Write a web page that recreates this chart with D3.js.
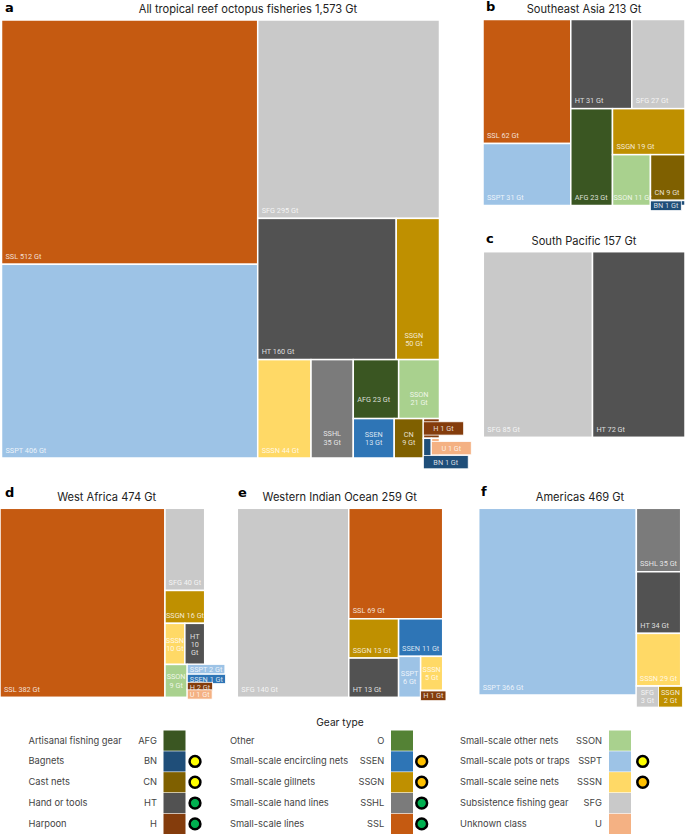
<!DOCTYPE html>
<html>
<head>
<meta charset="utf-8">
<script src="https://cdn.jsdelivr.net/npm/d3@7"></script>
<style>
  html, body { margin: 0; padding: 0; background: #fff; }
  svg { display: block; }
  text { font-family: Inter, "Noto Sans", sans-serif; }
</style>
</head>
<body>
<svg id="chart"></svg>
<script>
// panel titles
var titleA = "All tropical reef octopus fisheries 1,573 Gt";
var titleB = "Southeast Asia 213 Gt";
var titleC = "South Pacific 157 Gt";
var titleD = "West Africa 474 Gt";
var titleE = "Western Indian Ocean 259 Gt";
var titleF = "Americas 469 Gt";

// gear codes and printed catch per panel
var codesA = ["SSL", "SSPT", "SFG", "HT", "SSGN", "SSSN", "SSHL", "AFG", "SSON", "SSEN", "CN", "H", "BN", "U"];
var gtA = [512, 406, 295, 160, 50, 44, 35, 23, 21, 13, 9, 1, 1, 1];
// printed numbers are rounded, these are the cell sizes estimated from the picture
var sizeA = [512, 406, 295, 160, 50, 42.9, 34, 21.9, 19.7, 13.2, 9.4, 2.6, 1.3, 1.3];

var codesB = ["SSL", "SSPT", "HT", "SFG", "AFG", "SSGN", "SSON", "CN", "BN"];
var gtB = [62, 31, 31, 27, 23, 19, 11, 9, 1];

var codesC = ["SFG", "HT"];
var gtC = [85, 72];

var codesD = ["SSL", "SFG", "SSGN", "SSSN", "HT", "SSON", "SSPT", "SSEN", "H", "U"];
var gtD = [382, 40, 16, 10, 10, 9, 2, 1, 2, 1];
var sizeD = [382, 40, 16, 10, 10, 9, 2, 1.7, 1.6, 1.7];

var codesE = ["SFG", "SSL", "SSGN", "HT", "SSEN", "SSPT", "SSSN", "H"];
var gtE = [140, 69, 13, 13, 11, 6, 5, 1];

var codesF = ["SSPT", "SSHL", "HT", "SSSN", "SFG", "SSGN"];
var gtF = [366, 35, 34, 29, 3, 2];
var sizeF = [366, 35, 34, 29, 2.5, 2.5];

// how each treemap is nested: "h" splits left to right, "v" top to bottom
var treeA = ["h", ["v", "SSL", "SSPT"],
  ["v", "SFG", ["h", "HT", "SSGN"],
    ["h", "SSSN", "SSHL",
      ["v", ["h", "AFG", "SSON"], ["h", "SSEN", "CN", ["v", "H", ["h", "BN", "U"]]]]]]];
var treeB = ["h", ["v", "SSL", "SSPT"],
  ["v", ["h", "HT", "SFG"],
    ["h", "AFG", ["v", "SSGN", ["h", "SSON", ["v", "CN", "BN"]]]]]];
var treeC = ["h", "SFG", "HT"];
var treeD = ["h", "SSL",
  ["v", "SFG", "SSGN", ["h", "SSSN", "HT"], ["h", "SSON", ["v", "SSPT", "SSEN", "H", "U"]]]];
var treeE = ["h", "SFG",
  ["v", "SSL", ["h", ["v", "SSGN", "HT"], ["v", "SSEN", ["h", "SSPT", ["v", "SSSN", "H"]]]]]];
var treeF = ["h", "SSPT", ["v", "SSHL", "HT", "SSSN", ["h", "SFG", "SSGN"]]];

// labels set on two lines (name / amount), per panel
var wrapA = ["SSGN", "SSHL", "SSON", "SSEN", "CN"];
var wrapB = [];
var wrapC = [];
var wrapD = ["SSSN", "HT", "SSON"];
var wrapE = ["SSPT", "SSSN"];
var wrapF = ["SFG", "SSGN"];

// legend
var legendCodes = ["AFG", "BN", "CN", "HT", "H", "O", "SSEN", "SSGN", "SSHL", "SSL", "SSON", "SSPT", "SSSN", "SFG", "U"];
var legendNames = ["Artisanal fishing gear", "Bagnets", "Cast nets", "Hand or tools", "Harpoon",
  "Other", "Small-scale encircling nets", "Small-scale gillnets", "Small-scale hand lines", "Small-scale lines",
  "Small-scale other nets", "Small-scale pots or traps", "Small-scale seine nets", "Subsistence fishing gear", "Unknown class"];
var gearColours = ["#3a5622", "#1f4e79", "#7f6000", "#525252", "#843c0c",
  "#548235", "#2e75b6", "#bf9000", "#7b7b7b", "#c55a11",
  "#a9d18e", "#9dc3e6", "#ffd966", "#c9c9c9", "#f4b183"];
var dotCodes = ["BN", "CN", "HT", "H", "SSEN", "SSGN", "SSHL", "SSL", "SSPT", "SSSN"];
var dotColours = ["#ffff00", "#ffff00", "#00b050", "#00b050", "#ffc000", "#ffc000", "#00b050", "#00b050", "#ffff00", "#ffc000"];

var width = 685, height = 834;
var svg = d3.select("#chart").attr("width", width).attr("height", height);
var colour = d3.scaleOrdinal().domain(legendCodes).range(gearColours);
var dotColour = d3.scaleOrdinal().domain(dotCodes).range(dotColours);

var panels = [
  { id: "a", title: titleA, codes: codesA, gt: gtA, size: sizeA, tree: treeA, wrap: wrapA, box: [1.5, 20, 439.5, 458], letterX: 5, letterY: 11.5, titleX: 248, titleY: 13, padX: 10, padY: 2.5 },
  { id: "b", title: titleB, codes: codesB, gt: gtB, size: gtB, tree: treeB, wrap: wrapB, box: [483, 19.5, 685, 205.5], letterX: 486, letterY: 10.5, titleX: 584, titleY: 13, padX: 3, padY: 0.7 },
  { id: "c", title: titleC, codes: codesC, gt: gtC, size: gtC, tree: treeC, wrap: wrapC, box: [483.3, 251.7, 685, 437.3], letterX: 486, letterY: 243, titleX: 584, titleY: 244.5, padX: 3, padY: 0.7 },
  { id: "d", title: titleD, codes: codesD, gt: gtD, size: sizeD, tree: treeD, wrap: wrapD, box: [0, 508.3, 204.7, 697.3], letterX: 5, letterY: 497, titleX: 106.7, titleY: 501, padX: 2.5, padY: 0.5 },
  { id: "e", title: titleE, codes: codesE, gt: gtE, size: gtE, tree: treeE, wrap: wrapE, box: [237.3, 508.3, 442.7, 697.3], letterX: 238, letterY: 497, titleX: 339.7, titleY: 501, padX: 2.5, padY: 0.7 },
  { id: "f", title: titleF, codes: codesF, gt: gtF, size: sizeF, tree: treeF, wrap: wrapF, box: [478.7, 508.3, 680.7, 695], letterX: 481, letterY: 496, titleX: 580, titleY: 501, padX: 2.5, padY: 2 }
];

// label tweaks that do not follow the general placement
var labelNudge = { a: { AFG: [0, -11], BN: [0, 14], SSGN: [-4, 0] } };

var labelSize = 7.3, lineHeight = 8.3;

function tile(node, x0, y0, x1, y1) {
  (node.data[0] === "h" ? d3.treemapDice : d3.treemapSlice)(node, x0, y0, x1, y1);
}

panels.forEach(function (p) {
  var g = svg.append("g").attr("class", "panel-" + p.id);

  g.append("text")
    .attr("x", p.letterX).attr("y", p.letterY)
    .style("font-family", "DejaVu Sans")
    .attr("font-weight", 900).attr("font-size", 13).attr("fill", "#000")
    .text(p.id);
  g.append("text")
    .attr("x", p.titleX).attr("y", p.titleY)
    .attr("text-anchor", "middle").attr("font-size", 11.1).attr("fill", "#222")
    .text(p.title);

  var root = d3.hierarchy(p.tree, function (d) {
    return Array.isArray(d) ? d.slice(1) : null;
  }).sum(function (d) {
    return typeof d === "string" ? p.size[p.codes.indexOf(d)] : 0;
  });

  d3.treemap()
    .tile(tile)
    .size([p.box[2] - p.box[0], p.box[3] - p.box[1]])(root);

  var leaves = root.leaves();
  var cells = g.append("g").attr("transform", "translate(" + p.box[0] + "," + p.box[1] + ")");

  cells.selectAll("rect")
    .data(leaves)
    .join("rect")
    .attr("x", function (d) { return d.x0; })
    .attr("y", function (d) { return d.y0; })
    .attr("width", function (d) { return d.x1 - d.x0; })
    .attr("height", function (d) { return d.y1 - d.y0; })
    .attr("fill", function (d) { return colour(d.data); })
    .attr("stroke", "#fff")
    .attr("stroke-width", 1.5);

  leaves.forEach(function (d) { drawLabel(cells, p, d); });
});

function drawLabel(parent, p, d) {
  var code = d.data;
  var amount = p.gt[p.codes.indexOf(code)];
  var whole = code + " " + amount + " Gt";
  var lines = [whole];
  if (p.wrap.indexOf(code) >= 0) lines = [code, amount + " Gt"];
  if (p.id === "d" && code === "HT") lines = whole.split(" ");

  var lab = parent.append("g");
  var box = lab.append("rect");
  var texts = lab.selectAll("text").data(lines).join("text")
    .style("font-family", "Roboto")
    .attr("font-size", labelSize)
    .attr("fill", "#fff")
    .attr("fill-opacity", 0.82)
    .text(function (t) { return t; });

  var blockW = 0;
  texts.each(function () { blockW = Math.max(blockW, this.getComputedTextLength()); });
  var blockH = lines.length * lineHeight;
  var w = d.x1 - d.x0, h = d.y1 - d.y0;
  var overflow = blockW > w + 1 || blockH > h + 1;
  var nudge = (labelNudge[p.id] || {})[code] || [0, 0];
  var boxW = blockW + 2 * p.padX;
  var cx, cy;

  if (overflow) {
    // tiny cell: the label gets its own tab in the cell colour
    if (lines.length > 1) boxW = Math.max(w, boxW);
    cx = d.x0 + boxW / 2;
    cy = blockH + 2 * p.padY <= h ? (d.y0 + d.y1) / 2 : d.y0 + 0.5 + p.padY + blockH / 2;
  } else if (lines.length > 1) {
    cx = (d.x0 + d.x1) / 2;
    cy = Math.max((d.y0 + d.y1) / 2, d.y1 - 20);
  } else {
    cx = d.x0 + Math.min(4, Math.max(1, (w - blockW) / 2)) + blockW / 2;
    cy = h > 16 ? d.y1 - 8 : (d.y0 + d.y1) / 2;
  }
  cx += nudge[0];
  cy += nudge[1];

  texts
    .attr("text-anchor", "middle")
    .attr("x", cx)
    .attr("y", function (t, i) {
      return cy + (i - (lines.length - 1) / 2) * lineHeight + 2.6;
    });

  if (overflow) {
    box.attr("x", cx - boxW / 2)
      .attr("y", cy - blockH / 2 - p.padY)
      .attr("width", boxW)
      .attr("height", blockH + 2 * p.padY)
      .attr("fill", colour(code))
      .attr("stroke", "#fff")
      .attr("stroke-width", 0.8);
  } else {
    box.remove();
  }
}

// legend: three columns of five rows
var rowY = d3.scaleBand().domain(d3.range(5)).range([730.5, 834]).paddingInner(0.03);
var columns = [
  { labelX: 28.5, codeX: 157, swatchX: 163.5, dotX: 195 },
  { labelX: 230, codeX: 384.3, swatchX: 391, dotX: 421.7 },
  { labelX: 460, codeX: 602, swatchX: 609, dotX: 642.7 }
];

svg.append("text")
  .attr("x", 340).attr("y", 726)
  .attr("text-anchor", "middle").attr("font-size", 10.2).attr("fill", "#222")
  .text("Gear type");

var legend = svg.append("g").attr("class", "legend");
legendCodes.forEach(function (code, i) {
  var col = columns[Math.floor(i / 5)];
  var row = i % 5;
  var midY = rowY(row) + rowY.bandwidth() / 2;
  var g = legend.append("g");

  g.append("text").attr("x", col.labelX).attr("y", midY + 3)
    .attr("font-size", 9.3).attr("fill", "#444").text(legendNames[i]);
  g.append("text").attr("x", col.codeX).attr("y", midY + 3)
    .attr("text-anchor", "end").attr("font-size", 9.3).attr("fill", "#444").text(code);
  g.append("rect")
    .attr("x", col.swatchX).attr("y", rowY(row))
    .attr("width", 22).attr("height", rowY.bandwidth())
    .attr("fill", colour(code));

  if (dotCodes.indexOf(code) >= 0) {
    g.append("circle")
      .attr("cx", col.dotX).attr("cy", midY).attr("r", 5.4)
      .attr("fill", dotColour(code))
      .attr("stroke", "#000").attr("stroke-width", 2.5);
  }
});
</script>
</body>
</html>
